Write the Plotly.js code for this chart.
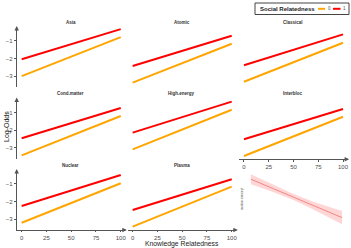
<!DOCTYPE html>
<html><head><meta charset="utf-8">
<script src="https://cdn.plot.ly/plotly-3.0.1.min.js"></script>
<style>html,body{margin:0;padding:0;background:#fff}#chart{width:351px;height:248px}</style>
</head><body><div id="chart"></div>
<script>
const fields = ['Asia','Atomic','Classical','Cond.matter','High.energy','Interbloc','Nuclear','Plasma'];
const knowledge = [0, 100];
const xTicks = [0, 25, 50, 75, 100];
const yTicks = [-1, -2, -3];
// Social Relatedness = 0 (orange)
const s0Start = [-3.00, -3.37, -3.32, -3.44, -3.09, -3.47, -3.19, -3.41];
const s0End   = [-0.79, -1.17, -1.11, -1.19, -0.83, -1.23, -0.96, -1.15];
// Social Relatedness = 1 (red)
const s1Start = [-2.05, -2.43, -2.39, -2.46, -2.14, -2.52, -2.24, -2.47];
const s1End   = [-0.34, -0.72, -0.64, -0.73, -0.37, -0.79, -0.49, -0.73];
// extra panel: fitted line with confidence band
const reX = [7, 30, 50, 70, 99];
const reFit = [-0.73, -1.27, -1.74, -2.22, -2.90];
const reUpper = [-0.45, -1.07, -1.57, -2.00, -2.52];
const reLower = [-1.01, -1.47, -1.91, -2.44, -3.28];

const colDom = [[0.0476,0.3553],[0.3638,0.6715],[0.6809,0.9886]];
const rowDom = [[0.6492,0.8911],[0.3577,0.6028],[0.0726,0.3145]];
const rowRange = [[-3.62,-0.22],[-3.66,-0.19],[-3.6,-0.21]];
const FONT = 'Liberation Sans, Arial, sans-serif';
const AX = '#555555';
const px = (v) => v / 351, py = (v) => 1 - v / 248;

const traces = [];
const layout = {
  width: 351, height: 248, margin: {l:0, r:0, t:0, b:0},
  paper_bgcolor: '#fff', plot_bgcolor: '#fff', showlegend: false,
  font: {family: FONT}, annotations: [], shapes: []
};
function note(o) {
  layout.annotations.push(Object.assign({xref: 'paper', yref: 'paper', xanchor: 'center', yanchor: 'middle',
    showarrow: false}, o));
}

for (let k = 0; k < 9; k++) {
  const row = Math.floor(k / 3), col = k % 3, n = k + 1;
  const xs = n === 1 ? 'x' : 'x' + n, ys = n === 1 ? 'y' : 'y' + n;
  const xk = n === 1 ? 'xaxis' : 'xaxis' + n, yk = n === 1 ? 'yaxis' : 'yaxis' + n;
  const showX = k < 8 && (row === 2 || k === 5);
  const showY = k < 8 && col === 0;
  layout[xk] = {domain: colDom[col], range: [-5, 104], anchor: ys, showgrid: false, zeroline: false,
    showline: showX, linecolor: AX, linewidth: 1, showticklabels: showX, ticks: showX ? 'outside' : '',
    ticklen: 1.5, tickcolor: AX, tickvals: xTicks, tickfont: {size: 6, color: '#4d4d4d', family: FONT}, fixedrange: true};
  layout[yk] = {domain: rowDom[row], range: rowRange[row], anchor: xs, showgrid: false, zeroline: false,
    showline: showY, linecolor: AX, linewidth: 1, showticklabels: showY, ticks: showY ? 'outside' : '',
    ticklen: 2, tickcolor: AX, tickvals: yTicks, tickfont: {size: 6, color: '#4d4d4d', family: FONT}, fixedrange: true};
  if (k < 8) {
    traces.push({x: knowledge, y: [s0Start[k], s0End[k]], xaxis: xs, yaxis: ys, mode: 'lines',
      line: {color: '#FFA500', width: 2}, hoverinfo: 'skip'});
    traces.push({x: knowledge, y: [s1Start[k], s1End[k]], xaxis: xs, yaxis: ys, mode: 'lines',
      line: {color: '#FF0000', width: 2}, hoverinfo: 'skip'});
    note({text: '<b>' + fields[k] + '</b>', x: (colDom[col][0] + colDom[col][1]) / 2,
      y: rowDom[row][1] + 5 / 248, font: {size: 4.5, color: '#333', family: FONT}});
    if (showY) {
      layout.annotations.push({xref: 'paper', yref: 'paper', x: colDom[col][0], y: rowDom[row][1] + 0.004,
        ax: 0, ay: 6, axref: 'pixel', ayref: 'pixel', showarrow: true, arrowhead: 2, arrowsize: 0.9,
        arrowwidth: 1, arrowcolor: AX, text: ''});
    }
    if (showX) {
      layout.annotations.push({xref: 'paper', yref: 'paper', x: colDom[col][1] + 0.006, y: rowDom[row][0],
        ax: -6, ay: 0, axref: 'pixel', ayref: 'pixel', showarrow: true, arrowhead: 2, arrowsize: 0.9,
        arrowwidth: 1, arrowcolor: AX, text: ''});
    }
  } else {
    traces.push({x: reX.concat(reX.slice().reverse()), y: reUpper.concat(reLower.slice().reverse()),
      xaxis: xs, yaxis: ys, mode: 'lines', fill: 'toself', fillcolor: 'rgba(255,90,90,0.25)',
      line: {width: 0}, hoverinfo: 'skip'});
    traces.push({x: reX, y: reFit, xaxis: xs, yaxis: ys, mode: 'lines',
      line: {color: '#f07070', width: 0.8}, hoverinfo: 'skip'});
    note({text: 'random.intercept', x: px(242.3), y: py(199), textangle: -90,
      font: {size: 3, color: '#555', family: FONT}});
  }
}

// axis titles
note({text: 'Log-Odds', x: px(7), y: py(127), textangle: -90, font: {size: 7, color: '#222', family: FONT}});
note({text: 'Knowledge Relatedness', x: px(182), y: py(243.5), font: {size: 6.8, color: '#222', family: FONT}});

// legend box
layout.shapes.push({type: 'rect', xref: 'paper', yref: 'paper', x0: px(255), x1: px(349),
  y0: py(14.5), y1: py(3), line: {color: '#444', width: 1}, fillcolor: '#fff', layer: 'below'});
note({text: '<b>Social Relatedness</b>', x: px(258), y: py(8.8), xanchor: 'left',
  font: {size: 6, color: '#222', family: FONT}});
layout.shapes.push({type: 'line', xref: 'paper', yref: 'paper', x0: px(318), x1: px(325),
  y0: py(8.8), y1: py(8.8), line: {color: '#FFA500', width: 2}});
note({text: '0', x: px(329.3), y: py(8.8), font: {size: 4.5, color: '#555', family: FONT}});
layout.shapes.push({type: 'line', xref: 'paper', yref: 'paper', x0: px(333), x1: px(340.5),
  y0: py(8.8), y1: py(8.8), line: {color: '#FF0000', width: 2}});
note({text: '1', x: px(344.5), y: py(8.8), font: {size: 4.5, color: '#555', family: FONT}});

Plotly.newPlot('chart', traces, layout, {staticPlot: true, displayModeBar: false});
</script></body></html>
